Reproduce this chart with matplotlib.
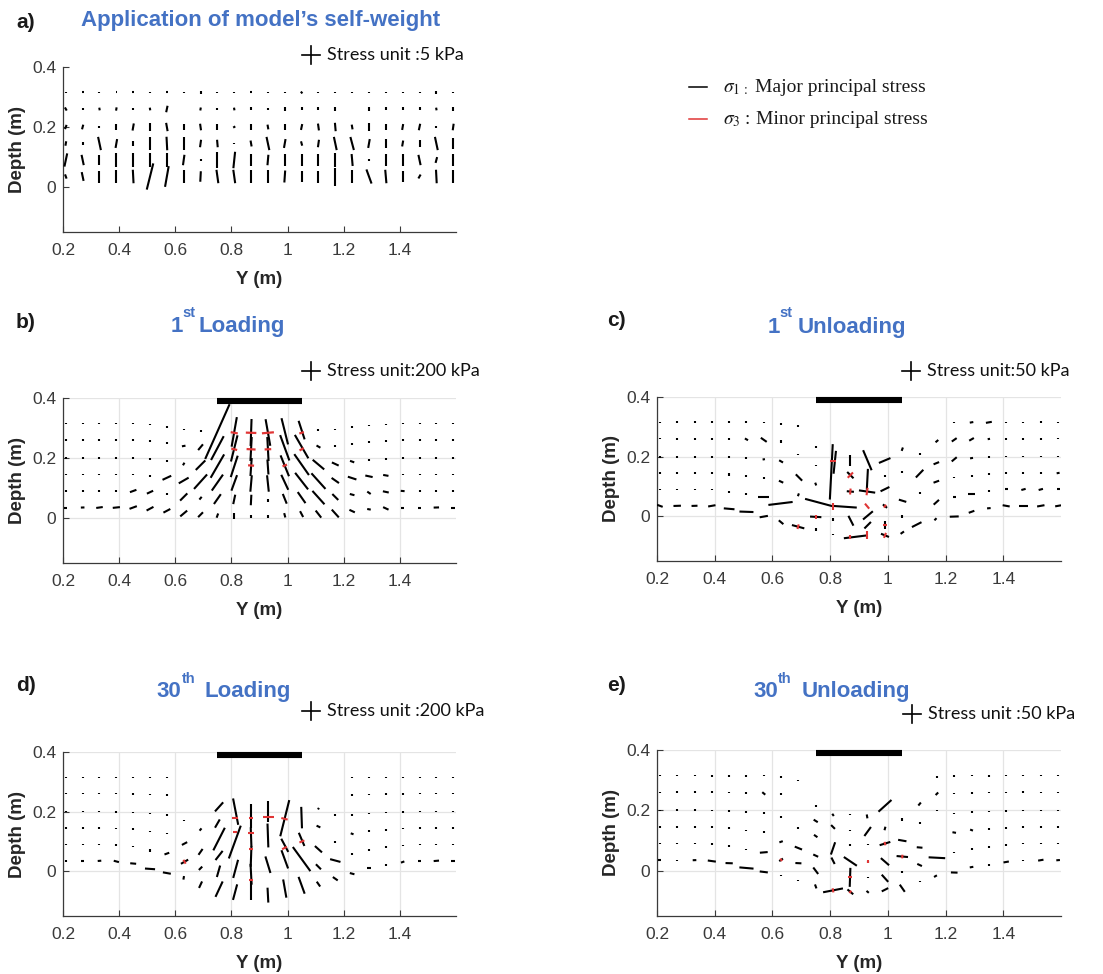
import matplotlib.pyplot as plt
import numpy as np
from matplotlib.collections import LineCollection
from matplotlib.lines import Line2D

W, H = 1103, 974
plt.rcParams['font.family'] = ['Liberation Sans', 'DejaVu Sans']
plt.rcParams['mathtext.fontset'] = 'stix'

BLUE = '#4472C4'
RED = '#e03535'

# mesh of the stress points (m)
cols = [0.21, 0.27, 0.33, 0.39, 0.45, 0.51, 0.57, 0.63, 0.69, 0.75, 0.81, 0.87,
        0.93, 0.99, 1.05, 1.11, 1.17, 1.23, 1.29, 1.35, 1.41, 1.47, 1.53, 1.59]
rows = [0.315, 0.26, 0.2, 0.145, 0.09, 0.035]
left_cols = [0, 1, 2, 3, 4, 5, 6]
right_cols = [17, 18, 19, 20, 21, 22, 23]
x_ticks = [0.2, 0.4, 0.6, 0.8, 1.0, 1.2, 1.4]
x_tick_labels = ['0.2', '0.4', '0.6', '0.8', '1', '1.2', '1.4']
y_ticks = [0, 0.2, 0.4]
y_tick_labels = ['0', '0.2', '0.4']
footing = [0.75, 1.05]

# sigma1 glyph length (cm on the plot) and angle from vertical (deg, + leans right)
# a) self-weight
len_a = [
    [0.6, 0.7, 0.6, 0.5, 0.8, 0.6, 0.6, 0.3, 0.7, 0.6, 0.6, 0.7, 0.6, 0.6, 0.8, 0.4, 0.4, 0.5, 0.6, 0.6, 0.6, 0.6, 0.7, 0.6],
    [1.2, 0.9, 0.9, 1.1, 0.9, 0.9, 2.2, 0.3, 1.0, 0.9, 0.9, 1.0, 0.9, 1.2, 1.0, 1.0, 1.4, 0.3, 1.3, 1.0, 1.0, 1.0, 0.9, 1.3],
    [1.5, 1.6, 0.8, 2.3, 2.4, 2.8, 2.8, 2.2, 2.2, 1.8, 0.8, 1.8, 1.6, 2.3, 2.0, 2.3, 2.8, 1.6, 2.8, 2.0, 2.0, 2.2, 0.8, 2.2],
    [1.5, 1.0, 4.5, 3.0, 1.5, 4.0, 4.5, 4.0, 2.5, 2.5, 0.6, 2.0, 4.5, 3.0, 1.5, 2.5, 4.5, 4.5, 3.0, 3.0, 2.0, 2.0, 4.5, 3.5],
    [4.5, 3.5, 3.0, 4.5, 4.5, 4.5, 4.5, 3.5, 0.8, 5.5, 5.5, 4.0, 3.5, 4.0, 4.0, 4.0, 4.5, 4.0, 0.8, 4.0, 4.0, 3.5, 2.0, 4.0],
    [1.5, 3.0, 4.0, 4.5, 4.5, 9.0, 7.0, 4.5, 3.5, 4.5, 4.5, 4.5, 4.5, 4.0, 3.5, 4.0, 6.0, 4.5, 5.0, 4.5, 3.5, 1.5, 4.5, 4.5],
]
ang_a = [
    [0, 90, 0, 90, 90, 0, 90, 0, 0, 0, 0, 90, 0, 0, -40, 0, 0, 0, 0, 0, 0, 0, 0, 0],
    [-30, 0, -10, 10, 0, -10, 12, 0, 10, 0, -10, 0, 0, 0, 0, 0, 0, 0, 0, 0, 0, 0, -10, 0],
    [20, 15, 0, 0, 10, 0, -10, 0, -8, 0, 60, 0, -10, 0, 12, -8, -5, -10, 0, 0, 10, 12, 0, 8],
    [10, 0, -12, 10, 0, 0, -3, 0, 8, -5, 0, -10, -12, 10, -15, 8, -12, -15, 10, 0, 10, 0, -12, 0],
    [12, -12, 0, 0, 0, 0, 0, 8, 0, 0, 6, 0, 5, 0, 0, 0, 0, -5, 0, 0, 0, -12, 15, 0],
    [-20, -12, 0, 0, -3, 14, 10, 0, 3, -8, -8, 0, 0, 4, 0, 0, 0, 0, -20, -5, 0, 30, -3, 0],
]

# b) 1st loading
len_b = [
    [0.5, 0.5, 0.5, 0.5, 0.5, 0.5, 0.5, 0.6, 0.7, 20, 10, 9, 9, 9, 6.5, 0.5, 0.5, 0.5, 0.5, 0.5, 0.5, 0.5, 0.5, 0.5],
    [0.6, 0.6, 0.6, 0.6, 0.6, 0.6, 0.6, 1.2, 2.5, 9, 9, 8, 8, 9, 9, 1.5, 0.5, 0.6, 0.6, 0.6, 0.6, 0.6, 0.6, 0.6],
    [0.6, 0.6, 0.6, 0.6, 0.6, 0.6, 0.6, 1.0, 4.5, 9, 7.5, 6, 5, 7.5, 8.5, 5, 2.5, 1.5, 0.6, 0.6, 0.6, 0.6, 0.6, 0.6],
    [0.6, 0.6, 0.6, 0.6, 0.6, 0.6, 3.2, 3.8, 6.5, 6.5, 5.5, 5.5, 5.5, 5.5, 7, 7, 3, 3, 2.5, 1.8, 0.6, 0.6, 0.6, 0.6],
    [0.6, 0.6, 0.6, 0.6, 2.3, 2.3, 0.7, 3.4, 1.2, 4, 3.2, 3.5, 1.0, 3.5, 4.5, 6, 2.8, 1.6, 1.4, 2, 1.3, 0.6, 0.6, 0.6],
    [0.9, 1.2, 2.2, 2.4, 2.6, 2.6, 2.6, 3, 2.3, 1.5, 1.8, 1.0, 1.0, 1.5, 2.2, 3, 3.5, 2, 1.2, 2, 1.2, 1.2, 1.8, 1.2],
]
ang_b = [
    [0, 0, 0, 0, 0, 0, 0, 0, 0, 24, 10, 2, -10, -14, -18, 0, 0, 0, 0, 0, 0, 0, 0, 0],
    [0, 0, 0, 0, 0, 0, 0, 80, 40, 28, 14, 3, -3, -20, -30, -60, 0, 0, 0, 0, 0, 0, 0, 0],
    [0, 0, 0, 0, 0, 0, 0, 30, 45, 30, 18, 4, -4, -22, -35, -50, -65, -70, 0, 0, 0, 0, 0, 0],
    [0, 0, 0, 0, 0, 0, 65, 60, 42, 35, 20, 5, -6, -25, -38, -42, -55, -72, -78, -80, 0, 0, 0, 0],
    [0, 0, 0, 0, 70, 65, 0, 45, 40, 35, 12, 3, 0, -22, -35, -42, -45, -75, -55, -78, -85, 0, 0, 0],
    [90, 88, 82, 84, 70, 62, 62, 50, 45, 20, 0, 0, 0, -15, -28, -38, -42, -65, -80, -65, 90, 90, 88, 90],
]
settle_b = [0, 0, 0, 0, 0, -0.004, -0.011, -0.02, -0.024, -0.027, -0.028, -0.03,
            -0.03, -0.026, -0.022, -0.022, -0.02, -0.012, -0.006, -0.003, 0, 0, 0, 0]
red_b = [(0.81, 0.284, 2.4, -80), (0.87, 0.284, 3.5, -88), (0.93, 0.284, 4.0, 85),
         (1.05, 0.284, 1.6, 72), (0.81, 0.229, 2.0, -76), (0.87, 0.229, 3.0, -87),
         (0.93, 0.229, 2.2, 87), (1.05, 0.229, 1.6, 60), (0.87, 0.175, 2.0, -86),
         (0.99, 0.175, 1.6, 68)]

# c) 1st unloading
left_len_c = [[0.5, 0.6, 0.6, 0.7, 0.6, 0.6, 0.4], [0.4, 0.6, 0.8, 0.6, 0.6, 1.2, 2.4],
              [0.6, 0.6, 0.6, 0.6, 0.6, 0.5, 0.8], [0.6, 0.6, 0.6, 0.5, 0.8, 0.8, 0.5],
              [0.5, 0.6, 0.6, 0.5, 0.6, 0.7, 3.6], [2.0, 2.5, 2.0, 2.5, 3.6, 4.7, 2.8]]
left_ang_c = [[0, 0, 0, 0, 0, 0, 0], [0, 0, 0, 0, 0, -60, -55], [0, 0, 0, 0, 0, 0, 80],
              [0, 0, 0, 0, 0, 0, 0], [0, 0, 0, 0, 0, 0, 90], [-70, 88, 88, 80, -85, -88, 80]]
right_len_c = [[0.4, 1.2, 2.0, 0.5, 0.5, 0.6, 0.5], [2.0, 1.8, 0.8, 0.6, 0.6, 0.6, 0.5],
               [2.2, 1.0, 0.6, 0.5, 0.5, 0.5, 0.5], [0.3, 0.6, 0.6, 0.6, 0.5, 0.6, 1.0],
               [1.0, 2.5, 0.6, 1.0, 1.5, 1.5, 1.0], [3.0, 2.0, 1.2, 2.4, 3.0, 2.5, 2.0]]
right_ang_c = [[0, 80, 80, 0, 0, 0, 0], [55, 60, 80, 0, 0, 0, 0], [50, 80, 0, 0, 0, 0, 0],
               [0, 0, 0, 0, 0, 0, 80], [90, 90, 0, 90, 75, 75, 90], [88, 70, 85, -80, 90, 80, 80]]
settle_c = [0, 0, 0, 0, -0.01, -0.02, -0.036, -0.054, -0.067, -0.078, -0.096, -0.105,
            -0.1, -0.094, -0.086, -0.067, -0.05, -0.036, -0.02, -0.008, 0, 0, 0, 0]
center_c = [(0.63, 0.31, 0.5, 0), (0.69, 0.304, 0.6, 0), (0.63, 0.252, 1.0, 0),
            (0.63, 0.184, 1.5, -60), (0.69, 0.207, 0.6, 0), (0.75, 0.233, 0.5, 0),
            (0.63, 0.116, 1.6, -65), (0.692, 0.13, 3.0, -45), (0.75, 0.17, 0.6, 0),
            (0.75, 0.108, 1.0, -20), (0.69, 0.072, 1.0, 20), (0.628, 0.043, 8.2, 83),
            (0.761, 0.046, 9.6, -75), (0.85, 0.032, 8.2, -86), (0.804, 0.149, 18.6, 3),
            (0.816, 0.181, 7.7, 6), (0.87, 0.187, 3.6, 0), (0.87, 0.138, 3.0, -45),
            (0.87, 0.083, 2.4, -85), (0.928, 0.083, 5.5, -82), (0.929, 0.124, 7.0, 3),
            (0.929, 0.188, 7.3, -23), (0.989, 0.187, 4.2, 67), (0.99, 0.134, 0.6, 0),
            (0.99, 0.091, 3.3, 64), (1.05, 0.225, 1.2, 20), (1.05, 0.149, 0.6, 0),
            (1.051, 0.052, 2.6, -73), (1.11, 0.209, 0.5, 0), (1.11, 0.143, 3.6, 44),
            (1.11, 0.078, 0.7, 0), (1.17, 0.252, 1.2, 50), (1.168, 0.178, 2.0, 68),
            (1.168, 0.116, 2.0, 70), (1.168, 0.047, 2.4, 48), (0.872, -0.015, 3.7, -27),
            (0.931, 0.003, 4.3, 50), (0.99, 0.034, 1.8, -50), (0.93, -0.03, 3.1, 45),
            (0.99, -0.03, 2.8, 0), (0.887, -0.069, 7.7, 83), (0.99, -0.064, 2.9, -68),
            (1.05, -0.055, 1.4, 55), (1.1, -0.028, 3.6, 63), (1.165, -0.01, 1.0, 45),
            (0.75, -0.002, 3.8, -87), (0.689, -0.035, 4.3, -75), (0.75, -0.045, 1.0, 0),
            (0.81, -0.061, 0.6, 0), (0.81, -0.01, 1.0, 0), (0.63, -0.02, 2.0, -50),
            (1.05, 0.0, 1.0, 0)]
red_c = [(0.81, 0.187, 2.2, 90), (0.87, 0.138, 2.5, 45), (0.87, 0.083, 2.0, 5),
         (0.928, 0.083, 2.5, 8), (0.81, 0.034, 2.4, 0), (0.928, 0.034, 2.2, -40),
         (0.75, -0.002, 1.5, 0), (0.689, -0.035, 1.6, 15), (0.87, -0.07, 1.5, 0),
         (0.928, -0.064, 2.6, 0), (0.99, -0.03, 1.6, 90), (0.99, -0.064, 1.8, 22),
         (0.99, 0.034, 1.2, 40)]

# d) 30th loading
left_len_d = [[0.3, 0.5, 0.5, 0.5, 0.4, 0.4, 0.5], [0.4, 0.5, 0.5, 0.4, 0.5, 0.4, 0.5],
              [0.4, 0.5, 0.5, 0.5, 0.5, 0.5, 0.6], [0.4, 0.6, 0.5, 0.5, 0.5, 0.5, 0.6],
              [0.4, 0.6, 0.5, 0.5, 0.6, 0.7, 1.7], [0.5, 1.0, 1.2, 1.8, 2.0, 3.4, 2.7]]
left_ang_d = [[0, 0, 0, 0, 0, 0, 0], [0, 0, 0, 0, 0, 0, 0], [0, 0, 0, 0, 0, 0, 0],
              [0, 0, 0, 0, 0, 0, 0], [0, 0, 0, 0, 0, 0, 70], [0, 90, 85, -75, -85, -86, -80]]
right_len_d = [[0.4, 0.5, 0.5, 0.4, 0.5, 0.5, 0.5], [0.4, 0.5, 0.5, 0.5, 0.5, 0.5, 0.5],
               [0.5, 0.5, 0.5, 0.5, 0.5, 0.5, 0.5], [1.0, 0.6, 0.6, 0.5, 0.5, 0.5, 0.5],
               [0.5, 0.6, 0.6, 0.5, 0.5, 0.5, 0.6], [1.6, 1.2, 0.6, 1.2, 0.8, 1.8, 1.2]]
right_ang_d = [[0, 0, 0, 0, 0, 0, 0], [0, 0, 0, 0, 0, 0, 0], [0, 0, 0, 0, 0, 0, 0],
               [-70, 0, 0, 0, 0, 0, 0], [0, 0, 0, 0, 0, 0, 0], [-75, 90, 0, 70, 90, 85, 90]]
settle_d = [0, 0, 0, -0.002, -0.009, -0.027, -0.041, -0.057, -0.077, -0.096, -0.11, -0.12,
            -0.12, -0.115, -0.1, -0.074, -0.057, -0.043, -0.024, -0.013, -0.004, 0, 0, 0]
center_d = [(0.63, 0.17, 0.6, 0), (0.633, 0.093, 2.0, 62), (0.633, 0.032, 2.8, 60),
            (0.63, -0.022, 1.2, 10), (0.69, 0.14, 1.0, 40), (0.69, 0.065, 2.4, 35),
            (0.69, 0.01, 1.6, 45), (0.69, -0.045, 2.4, 25), (0.756, 0.216, 4.1, 42),
            (0.75, 0.16, 3.2, 30), (0.756, 0.108, 8.5, 27), (0.756, 0.053, 3.9, 38),
            (0.754, 0.0, 4.0, 16), (0.756, -0.06, 5.7, 25), (0.815, 0.2, 9.0, -11),
            (0.812, 0.098, 11.7, 20), (0.815, 0.008, 6.3, 15), (0.813, -0.07, 5.4, 15),
            (0.87, 0.185, 8.0, 0), (0.87, 0.115, 6.5, -2), (0.87, 0.05, 7.0, 2),
            (0.87, -0.01, 7.0, -3), (0.87, -0.065, 6.5, 0), (0.93, 0.2, 7.0, 0),
            (0.93, 0.12, 8.0, -2), (0.93, 0.022, 5.8, -17), (0.93, -0.08, 5.0, -3),
            (0.99, 0.178, 12.5, 14), (0.99, 0.087, 5.0, -28), (0.99, 0.04, 6.5, -20),
            (0.99, -0.058, 6.2, -10), (1.05, 0.18, 7.2, -2), (1.05, 0.107, 4.8, -23),
            (1.05, 0.041, 10.0, -36), (1.05, -0.047, 6.0, -20), (1.11, 0.21, 0.6, 30),
            (1.11, 0.15, 1.4, -65), (1.11, 0.074, 3.2, -48), (1.11, 0.015, 2.4, -45),
            (1.11, -0.043, 2.0, -35), (1.17, 0.19, 0.6, 0), (1.17, 0.097, 0.6, 0),
            (1.17, 0.036, 3.6, -75), (1.17, -0.025, 2.0, -55)]
red_d = [(0.813, 0.178, 1.8, 90), (0.813, 0.133, 1.5, 90), (0.87, 0.178, 1.2, 90),
         (0.87, 0.128, 2.0, 90), (0.87, 0.076, 1.5, 90), (0.87, -0.028, 1.5, 90),
         (0.932, 0.183, 3.6, 90), (0.989, 0.176, 2.2, -76), (0.989, 0.078, 1.8, 62),
         (1.051, 0.1, 1.8, 67), (0.633, 0.032, 1.5, -30)]

# e) 30th unloading
left_len_e = [[0.4, 0.5, 0.5, 0.6, 0.6, 0.6, 0.5], [0.4, 0.6, 0.6, 0.6, 0.6, 0.5, 1.3],
              [0.4, 0.6, 0.6, 0.6, 0.6, 0.6, 0.6], [0.4, 0.6, 0.5, 0.6, 0.6, 0.5, 0.6],
              [0.5, 0.6, 0.6, 0.5, 0.6, 0.6, 2.6], [1.0, 0.4, 1.2, 2.7, 2.4, 4.7, 2.7]]
left_ang_e = [[0, 0, 0, 0, 0, 0, 0], [0, 0, 0, 0, 0, 0, -50], [0, 0, 0, 0, 0, 0, 0],
              [0, 0, 0, 0, 0, 0, 0], [0, 0, 0, 0, 0, 0, 85], [90, 0, 88, -82, -88, -85, -83]]
right_len_e = [[0.6, 0.5, 0.6, 0.5, 0.5, 0.5, 0.4], [0.6, 0.5, 0.5, 0.5, 0.6, 0.5, 0.5],
               [0.5, 0.6, 0.6, 0.5, 0.5, 0.5, 0.5], [1.2, 1.0, 0.6, 0.5, 0.5, 0.5, 0.5],
               [0.4, 0.6, 0.6, 0.6, 0.6, 0.6, 0.6], [2.2, 1.2, 0.6, 1.8, 0.4, 1.8, 1.2]]
right_ang_e = [[0, 0, 0, 0, 0, 0, 0], [0, 0, 0, 0, 0, 0, 0], [0, 0, 0, 0, 0, 0, 0],
               [-80, -70, 0, 0, 0, 0, 0], [0, 0, 0, 0, 0, 0, 0], [-88, 80, 0, 80, 0, 80, 85]]
settle_e = [0, 0, 0, -0.003, -0.01, -0.026, -0.039, -0.059, -0.072, -0.089, -0.1, -0.107,
            -0.109, -0.1, -0.092, -0.074, -0.054, -0.041, -0.023, -0.015, -0.006, 0, 0, 0]
center_e = [(0.63, 0.31, 0.5, 0), (0.63, 0.255, 0.5, 0), (0.69, 0.3, 0.4, 0),
            (0.63, 0.177, 0.6, 0), (0.63, 0.096, 1.2, 70), (0.63, 0.036, 1.5, 55),
            (0.63, -0.016, 0.4, 0), (0.69, 0.142, 0.6, 0), (0.69, 0.075, 2.6, -68),
            (0.69, 0.025, 2.0, -87), (0.69, -0.033, 0.4, 0), (0.75, 0.215, 0.6, 0),
            (0.75, 0.165, 1.6, -58), (0.75, 0.115, 1.4, -55), (0.75, 0.05, 1.8, -65),
            (0.75, 0.0, 2.7, -37), (0.75, -0.052, 1.4, -20), (0.81, 0.185, 0.9, -35),
            (0.81, 0.145, 1.8, -45), (0.81, 0.074, 4.3, 19), (0.81, 0.033, 2.4, -27),
            (0.81, -0.065, 6.7, 79), (0.87, 0.186, 0.5, 0), (0.87, 0.133, 0.4, 0),
            (0.87, 0.085, 0.5, 0), (0.87, 0.031, 5.2, -56), (0.869, -0.022, 6.3, 2),
            (0.87, -0.07, 2.5, -50), (0.928, 0.18, 1.3, -10), (0.93, 0.13, 3.7, 36),
            (0.93, 0.087, 0.4, 0), (0.93, 0.03, 0.6, 0), (0.93, -0.022, 0.5, 0),
            (0.93, -0.07, 1.0, -50), (0.99, 0.215, 5.8, 48), (0.99, 0.14, 1.2, 15),
            (0.99, 0.09, 3.7, 73), (0.99, 0.03, 3.6, -49), (0.99, -0.025, 3.2, -42),
            (0.99, -0.063, 2.4, 63), (1.05, 0.17, 0.8, 0), (1.05, 0.1, 2.8, -80),
            (1.05, 0.047, 3.8, -85), (1.05, -0.004, 0.6, 0), (1.05, -0.058, 2.9, -35),
            (1.11, 0.221, 1.3, 40), (1.11, 0.157, 0.6, 0), (1.11, 0.077, 1.9, -85),
            (1.11, 0.019, 1.7, -65), (1.11, -0.035, 0.5, 0), (1.17, 0.31, 0.5, 0),
            (1.17, 0.255, 1.2, 45), (1.17, 0.2, 0.4, 0), (1.17, 0.043, 5.5, -87),
            (1.165, -0.018, 1.1, 60)]
red_e = [(0.63, 0.036, 1.0, -35), (0.81, -0.065, 1.4, -11), (0.869, -0.022, 1.2, 90),
         (0.87, -0.07, 1.0, 40), (0.99, 0.09, 1.2, -17), (1.05, 0.047, 1.2, 5),
         (0.93, 0.03, 0.8, 0)]

# settlement of the flank rows grows with depth
depth_share = [0.0, 0.1, 0.25, 0.45, 0.75, 1.0]
full_share = [1, 1, 1, 1, 1, 1]

XLIM = (0.2, 1.6)
YLIM = (-0.15, 0.4)

fig = plt.figure(figsize=(W / 100, H / 100), dpi=100)


def px_box(l, t, r, b):
    return [l / W, 1 - b / H, (r - l) / W, (b - t) / H]


def ftext(x, y, s, **kw):
    return fig.text(x / W, 1 - y / H, s, **kw)


def grid_points(lens, angs, col_idx, settle, share):
    pts = []
    for r, (lrow, arow) in enumerate(zip(lens, angs)):
        for k, l, a in zip(col_idx, lrow, arow):
            if l > 0:
                pts.append((cols[k], rows[r] + settle[k] * share[r], l, a))
    return pts


def draw_glyphs(ax, pts, color, lw):
    pos = ax.get_position()
    ppx = pos.width * W / (XLIM[1] - XLIM[0])
    ppy = pos.height * H / (YLIM[1] - YLIM[0])
    p = np.array(pts, dtype=float)
    half = p[:, 2] / 100 * ppy / 2
    t = np.radians(p[:, 3])
    dx = half * np.sin(t) / ppx
    dy = half * np.cos(t) / ppy
    segs = np.stack([np.column_stack([p[:, 0] - dx, p[:, 1] - dy]),
                     np.column_stack([p[:, 0] + dx, p[:, 1] + dy])], axis=1)
    ax.add_collection(LineCollection(segs, colors=color, linewidths=lw,
                                     capstyle='butt', zorder=3))


def style(ax, grid):
    ax.set_xlim(*XLIM)
    ax.set_ylim(*YLIM)
    ax.set_xticks(x_ticks)
    ax.set_xticklabels(x_tick_labels)
    ax.set_yticks(y_ticks)
    ax.set_yticklabels(y_tick_labels)
    for s in ['top', 'right']:
        ax.spines[s].set_visible(False)
    for s in ['left', 'bottom']:
        ax.spines[s].set_color('#3a3a3a')
        ax.spines[s].set_linewidth(0.9)
    ax.tick_params(direction='in', length=4, width=0.8, color='#3a3a3a',
                   labelsize=12.5, labelcolor='#3a3a3a')
    ax.tick_params(axis='x', pad=8)
    ax.tick_params(axis='y', pad=5)
    if grid:
        ax.grid(True, color='#e4e4e4', lw=0.9)
        ax.set_axisbelow(True)
    pos = ax.get_position()
    wpx, hpx = pos.width * W, pos.height * H
    ax.set_xlabel('Y (m)', fontsize=13.5, fontweight='bold', color='#262626')
    ax.set_ylabel('Depth (m)', fontsize=13.5, fontweight='bold', color='#262626')
    ax.xaxis.set_label_coords(0.5, -39 / hpx)
    ax.yaxis.set_label_coords(-37 / wpx, 0.5)


def footing_bar(ax):
    ax.plot(footing, [0.3915, 0.3915], color='k', lw=4.4, solid_capstyle='butt',
            clip_on=False, zorder=4)


def unit_cross(x, y, half=9):
    fig.add_artist(Line2D([(x - half) / W, (x + half) / W], [1 - y / H] * 2, color='k', lw=1.2))
    fig.add_artist(Line2D([x / W] * 2, [1 - (y - half) / H, 1 - (y + half) / H], color='k', lw=1.2))


def stress_unit(x, y, label):
    unit_cross(x, y)
    ftext(x + 16, y, label, fontfamily='Lato', fontsize=13, va='center', color='#111111')


# --- panel a
ax_a = fig.add_axes(px_box(63, 67, 456, 232))
style(ax_a, grid=False)
draw_glyphs(ax_a, grid_points(len_a, ang_a, range(24), [0] * 24, full_share), 'k', 1.5)

# --- panel b
ax_b = fig.add_axes(px_box(63, 398, 456, 563))
style(ax_b, grid=True)
draw_glyphs(ax_b, grid_points(len_b, ang_b, range(24), settle_b, full_share), 'k', 1.5)
draw_glyphs(ax_b, red_b, RED, 1.6)
footing_bar(ax_b)

# --- panel c
ax_c = fig.add_axes(px_box(657, 397, 1061, 561))
style(ax_c, grid=True)
pts_c = (grid_points(left_len_c, left_ang_c, left_cols, settle_c, depth_share)
         + grid_points(right_len_c, right_ang_c, right_cols, settle_c, depth_share) + center_c)
draw_glyphs(ax_c, pts_c, 'k', 1.5)
draw_glyphs(ax_c, red_c, RED, 1.5)
footing_bar(ax_c)

# --- panel d
ax_d = fig.add_axes(px_box(63, 752, 456, 916))
style(ax_d, grid=True)
pts_d = (grid_points(left_len_d, left_ang_d, left_cols, settle_d, depth_share)
         + grid_points(right_len_d, right_ang_d, right_cols, settle_d, depth_share) + center_d)
draw_glyphs(ax_d, pts_d, 'k', 1.5)
draw_glyphs(ax_d, red_d, RED, 1.5)
footing_bar(ax_d)

# --- panel e
ax_e = fig.add_axes(px_box(657, 750, 1061, 916))
style(ax_e, grid=True)
pts_e = (grid_points(left_len_e, left_ang_e, left_cols, settle_e, depth_share)
         + grid_points(right_len_e, right_ang_e, right_cols, settle_e, depth_share) + center_e)
draw_glyphs(ax_e, pts_e, 'k', 1.5)
draw_glyphs(ax_e, red_e, RED, 1.5)
footing_bar(ax_e)

# --- panel letters and titles
lab = dict(fontsize=15, fontweight='bold', color='#1a1a1a', va='baseline')
ttl = dict(fontsize=16, fontweight='bold', color=BLUE, va='baseline')
sup = dict(fontsize=10.5, fontweight='bold', color=BLUE, va='baseline')
ftext(16, 28, 'a)', **lab)
ftext(81, 26, 'Application of model\u2019s self-weight', **ttl)
ftext(16, 328, 'b)', **lab)
ftext(171, 332, '1', **ttl)
ftext(182, 317, 'st', **sup)
ftext(199, 332, 'Loading', **ttl)
ftext(607, 326, 'c)', **lab)
ftext(768, 333, '1', **ttl)
ftext(779, 317, 'st', **sup)
ftext(798, 333, 'Unloading', **ttl)
ftext(16, 691, 'd)', **lab)
ftext(156, 697, '30', **ttl)
ftext(182, 683, 'th', **sup)
ftext(204, 697, 'Loading', **ttl)
ftext(607, 691, 'e)', **lab)
ftext(753, 697, '30', **ttl)
ftext(778, 683, 'th', **sup)
ftext(802, 697, 'Unloading', **ttl)

# --- stress unit markers
stress_unit(311, 55, 'Stress unit :5 kPa')
stress_unit(311, 371, 'Stress unit:200 kPa')
stress_unit(911, 371, 'Stress unit:50 kPa')
stress_unit(311, 711, 'Stress unit :200 kPa')
stress_unit(912, 714, 'Stress unit :50 kPa')

# --- legend for principal stresses
fig.add_artist(Line2D([689 / W, 707 / W], [1 - 87 / H] * 2, color='k', lw=1.1))
fig.add_artist(Line2D([689 / W, 707 / W], [1 - 119 / H] * 2, color=RED, lw=1.1))
ser = dict(fontfamily='Liberation Serif', fontsize=14, va='baseline', color='#1a1a1a')
ftext(723, 92, r'$\sigma_{1\,:}$', **ser)
ftext(755, 92, 'Major principal stress', **ser)
ftext(723, 124, r'$\sigma_3$', **ser)
ftext(745, 124, ':', **ser)
ftext(756, 124, 'Minor principal stress', **ser)

fig.savefig('out.png', dpi=100)
